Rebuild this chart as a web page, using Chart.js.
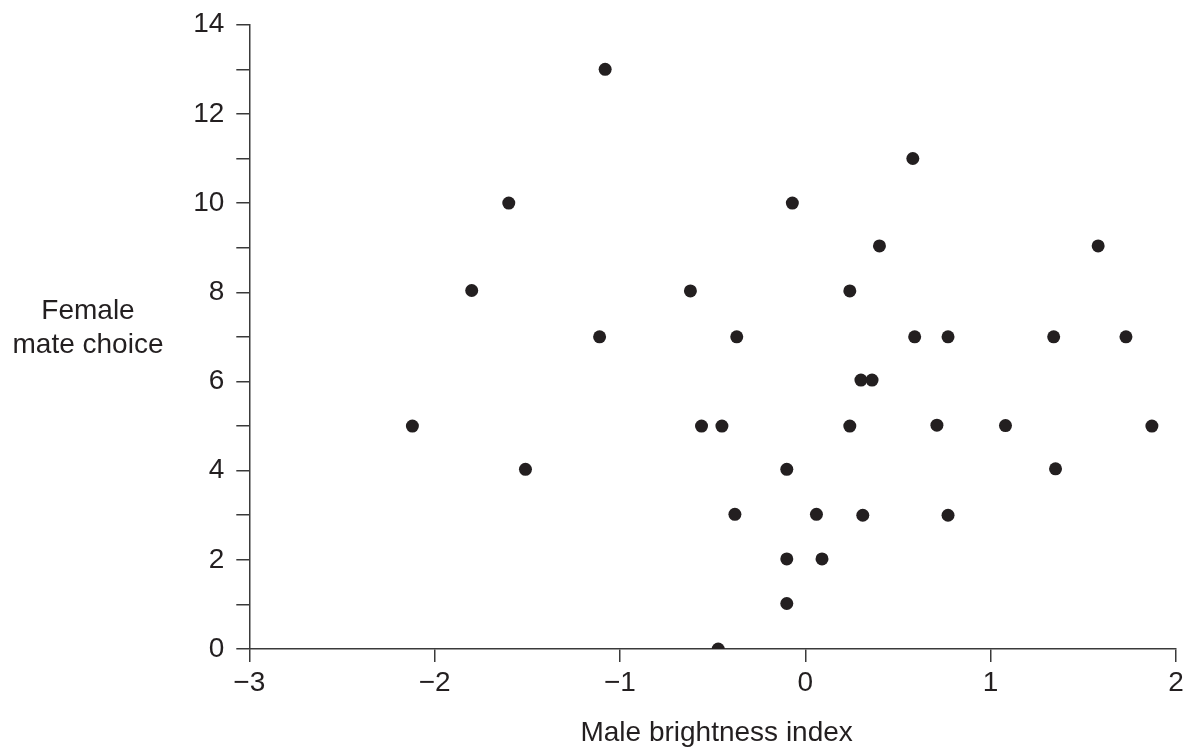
<!DOCTYPE html>
<html>
<head>
<meta charset="utf-8">
<script src="https://cdn.jsdelivr.net/npm/chart.js@4/dist/chart.umd.min.js"></script>
<style>
  html, body { margin: 0; padding: 0; background: #fff; }
  #wrap { width: 1192px; height: 749px; position: relative; }
</style>
</head>
<body>
<div id="wrap"><canvas id="chart"></canvas></div>
<script>
// Male brightness index (x) vs female mate choice (y)
var brightness = [
    -1.08, -1.60, -1.80, -2.12, -1.51, -1.11, -0.62, -0.07, -0.37, -0.56,
    -0.45, -0.10, -0.38, 0.06, -0.10, 0.09, -0.10, -0.47, 0.58, 0.40,
    1.58, 0.24, 0.59, 0.77, 1.34, 1.73, 0.30, 0.36, 0.24, 0.71,
    1.08, 1.87, 1.35, 0.31, 0.77
]
var mateChoice = [
    13, 10, 8.04, 5, 4.03, 7, 8.03, 10, 7, 5,
    5, 4.03, 3.02, 3.02, 2.02, 2.02, 1.02, 0, 11, 9.04,
    9.04, 8.03, 7, 7, 7, 7, 6.03, 6.03, 5, 5.02,
    5.01, 5, 4.04, 3, 3
]
var xTicks = [-3, -2, -1, 0, 1, 2]
var xTitle = 'Male brightness index'
var yTitle = ['Female', 'mate choice']

var ink = '#231f20'
var axisInk = '#3a3a3a'
var fontFamily = '"Liberation Sans", Arial, Helvetica, sans-serif'

Chart.defaults.font.family = fontFamily
Chart.defaults.font.size = 28
Chart.defaults.color = ink

var points = brightness.map((b, i) => ({ x: b, y: mateChoice[i] }))

/**
 * Draws the axis titles (the y one is horizontal, on two lines)
 */
var titlesPlugin = {
    id: 'titles',
    afterDraw(chart) {
        var ctx = chart.ctx
        var area = chart.chartArea
        var y = chart.scales.y
        ctx.save()
        ctx.fillStyle = ink
        ctx.font = '28px ' + fontFamily
        ctx.textAlign = 'center'
        ctx.textBaseline = 'alphabetic'
        ctx.fillText(xTitle, (area.left + area.right) / 2 + 4, area.bottom + 92)
        var base = y.getPixelForValue(7) - 18
        yTitle.forEach((line, i) => {
            ctx.fillText(line, 88, base + i * 34)
        })
        ctx.restore()
    }
}

var axisGrid = {
    drawOnChartArea: false,
    drawTicks: true,
    tickLength: 13,
    tickColor: axisInk,
    tickWidth: 1.5,
    color: axisInk,
    lineWidth: 1.5
}

new Chart(document.getElementById('chart'), {
    type: 'scatter',
    data: {
        datasets: [{
            data: points,
            backgroundColor: ink,
            borderWidth: 0,
            pointRadius: 6.5,
            pointHoverRadius: 6.5
        }]
    },
    options: {
        responsive: true,
        maintainAspectRatio: false,
        animation: false,
        events: [],
        layout: { padding: { left: 0, right: 16, top: 24.7, bottom: 0 } },
        plugins: {
            legend: { display: false },
            tooltip: { enabled: false }
        },
        scales: {
            x: {
                type: 'linear',
                min: -3,
                max: 2,
                afterBuildTicks: (s) => { s.ticks = xTicks.map(v => ({ value: v })) },
                afterFit: (s) => { s.height = 100 },
                grid: axisGrid,
                border: { display: true, color: axisInk, width: 1.5 },
                ticks: {
                    padding: 4,
                    color: ink,
                    maxRotation: 0,
                    callback: (v) => v < 0 ? '\u2212' + Math.abs(v) : String(v)
                }
            },
            y: {
                type: 'linear',
                min: 0,
                max: 14,
                afterFit: (s) => {
                    s.width = 249.3
                    s.paddingTop = 0
                    s.paddingBottom = 0
                },
                grid: axisGrid,
                border: { display: true, color: axisInk, width: 1.5 },
                ticks: {
                    stepSize: 1,
                    padding: 12,
                    color: ink,
                    autoSkip: false,
                    callback: (v) => v % 2 === 0 ? String(v) : ''
                }
            }
        }
    },
    plugins: [titlesPlugin]
})
</script>
</body>
</html>
